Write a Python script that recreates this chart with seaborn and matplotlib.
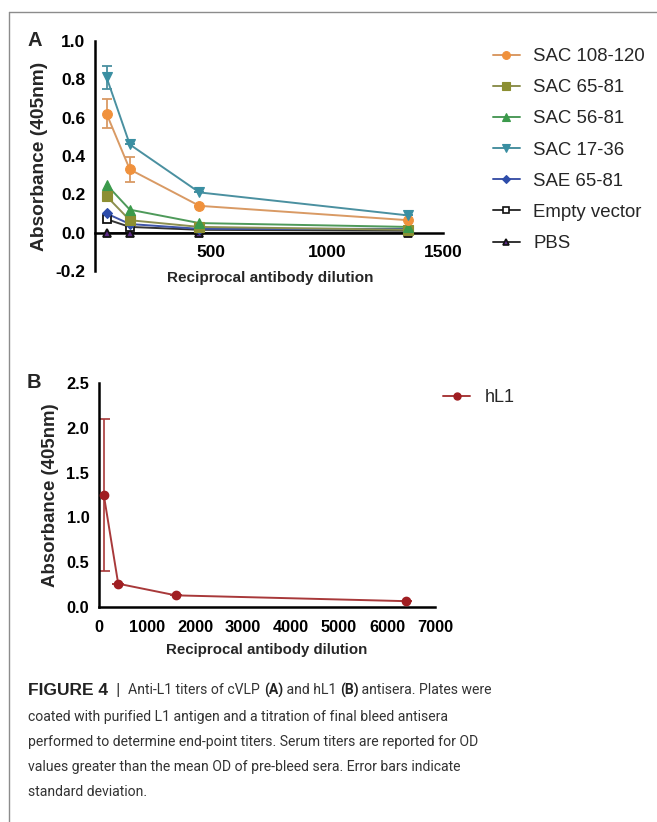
import numpy as np
import pandas as pd
import matplotlib
matplotlib.use("Agg")
import matplotlib.pyplot as plt
from matplotlib.lines import Line2D
import seaborn as sns

sns.set_style("white")
plt.rcParams['font.family'] = ['Liberation Sans', 'DejaVu Sans']

# ---- Data panel A ----
dilution_a = [50, 150, 450, 1350]
series_names = ["SAC 108-120", "SAC 65-81", "SAC 56-81", "SAC 17-36",
                "SAE 65-81", "Empty vector", "PBS"]
sac_108_120 = [0.62, 0.33, 0.14, 0.065]
sac_108_120_sd = [0.075, 0.065, 0.0, 0.0]
sac_65_81 = [0.19, 0.065, 0.03, 0.015]
sac_56_81 = [0.25, 0.12, 0.05, 0.03]
sac_17_36 = [0.81, 0.46, 0.21, 0.09]
sac_17_36_sd = [0.06, 0.0, 0.0, 0.0]
sae_65_81 = [0.10, 0.045, 0.02, 0.02]
empty_vector = [0.07, 0.03, 0.015, 0.01]
pbs = [0.0, 0.0, 0.0, 0.0]

# ---- Data panel B ----
dilution_b = [100, 400, 1600, 6400]
hl1 = [1.25, 0.26, 0.13, 0.065]
hl1_sd = [0.85, 0.0, 0.0, 0.0]

values = [sac_108_120, sac_65_81, sac_56_81, sac_17_36, sae_65_81, empty_vector, pbs]
rows = []
for name, vals in zip(series_names, values):
    for d, v in zip(dilution_a, vals):
        rows.append({"dilution": d, "absorbance": v, "series": name})
df_a = pd.DataFrame(rows)
df_b = pd.DataFrame({"dilution": dilution_b, "absorbance": hl1, "series": "hL1"})

colors = {"SAC 108-120": "#F0913C", "SAC 65-81": "#8C8F32", "SAC 56-81": "#3B9A4B",
          "SAC 17-36": "#3A8FA2", "SAE 65-81": "#2E4DAA", "Empty vector": "#111111",
          "PBS": "#111111"}
line_colors = {"SAC 108-120": "#D99A64", "SAC 65-81": "#8C8F50", "SAC 56-81": "#4E9A5A",
               "SAC 17-36": "#4A90A0", "SAE 65-81": "#3F55A8", "Empty vector": "#333333",
               "PBS": "#333333"}
markers = {"SAC 108-120": "o", "SAC 65-81": "s", "SAC 56-81": "^", "SAC 17-36": "v",
           "SAE 65-81": "D", "Empty vector": "s", "PBS": "^"}
msize = {"SAC 108-120": 7, "SAC 65-81": 6.5, "SAC 56-81": 6.5, "SAC 17-36": 6.5,
         "SAE 65-81": 5, "Empty vector": 6, "PBS": 6}
mface = {"Empty vector": "white", "PBS": "#5B2A86"}

fig = plt.figure(figsize=(6.57, 8.22), dpi=100)

# frame lines
fig.add_artist(Line2D([9/657, 9/657], [0, 1 - 12/822], color="#8c8c8c", lw=1.0))
fig.add_artist(Line2D([9/657, 1], [1 - 12/822, 1 - 12/822], color="#8c8c8c", lw=1.0))

axA = fig.add_axes([95/657, 1 - 271/822, 348/657, 230/822])
axB = fig.add_axes([99/657, 1 - 607/822, 336/657, 224/822])

order_draw = ["PBS", "Empty vector", "SAE 65-81", "SAC 65-81", "SAC 56-81",
              "SAC 108-120", "SAC 17-36"]
handles = {}
for name in order_draw:
    sub = df_a[df_a["series"] == name]
    sns.lineplot(data=sub, x="dilution", y="absorbance", ax=axA, color=line_colors[name],
                 lw=1.4, legend=False, zorder=2)
    axA.plot(sub["dilution"], sub["absorbance"], ls="none", marker=markers[name],
             ms=msize[name], mfc=mface.get(name, colors[name]),
             mec=colors[name] if name not in mface else "#111111",
             mew=1.3 if name in mface else 0.8, zorder=3)
    handles[name] = Line2D([], [], color=line_colors[name], lw=1.4, marker=markers[name],
                           ms=msize[name] * 0.8, mfc=mface.get(name, colors[name]),
                           mec=colors[name] if name not in mface else "#111111",
                           mew=1.2 if name in mface else 0.8)

axA.errorbar(dilution_a, sac_108_120, yerr=sac_108_120_sd, fmt="none",
             ecolor=line_colors["SAC 108-120"], elinewidth=1.3, capsize=3.5, capthick=1.3, zorder=1)
axA.errorbar(dilution_a, sac_17_36, yerr=sac_17_36_sd, fmt="none",
             ecolor=line_colors["SAC 17-36"], elinewidth=1.3, capsize=3.5, capthick=1.3, zorder=1)

def style_axes(ax, size):
    for s in ["top", "right"]:
        ax.spines[s].set_visible(False)
    for s in ["left", "bottom"]:
        ax.spines[s].set_linewidth(1.8)
        ax.spines[s].set_color("black")
    ax.tick_params(axis="both", direction="out", length=5, width=1.8, colors="black",
                   labelsize=size, pad=2)
    for lab in ax.get_xticklabels() + ax.get_yticklabels():
        lab.set_fontweight("bold")

axA.set_xlim(0, 1500)
axA.set_ylim(-0.2, 1.0)
axA.spines["bottom"].set_position(("data", 0))
axA.set_xticks([500, 1000, 1500])
axA.set_xticklabels(["500", "1000", "1500"])
axA.set_yticks([-0.2, 0.0, 0.2, 0.4, 0.6, 0.8, 1.0])
axA.set_yticklabels(["-0.2", "0.0", "0.2", "0.4", "0.6", "0.8", "1.0"])
style_axes(axA, 12.5)
axA.tick_params(axis="x", pad=4)
axA.set_xlabel("")
axA.set_ylabel("Absorbance (405nm)", fontsize=13.8, fontweight="bold", labelpad=5)
fig.text(270/657, 1 - 278/822, "Reciprocal antibody dilution", ha="center", va="center",
         fontsize=11, fontweight="bold")

leg_order = series_names
axA.legend([handles[n] for n in leg_order], leg_order, loc="upper left",
           bbox_to_anchor=(493/657, 1 - 48/822), bbox_transform=fig.transFigure,
           frameon=False, fontsize=13.4, handlelength=1.45, labelspacing=0.76,
           handletextpad=0.7, borderaxespad=0, borderpad=0)

# panel B
sns.lineplot(data=df_b, x="dilution", y="absorbance", ax=axB, color="#A8393A", lw=1.4,
             legend=False, zorder=2)
axB.plot(dilution_b, hl1, ls="none", marker="o", ms=6, mfc="#A01E22", mec="#A01E22", zorder=3)
axB.errorbar(dilution_b, hl1, yerr=hl1_sd, fmt="none", ecolor="#A8393A", elinewidth=1.2,
             capsize=4, capthick=1.2, zorder=1)
axB.set_xlim(0, 7000)
axB.set_ylim(0, 2.5)
axB.set_xticks([0, 1000, 2000, 3000, 4000, 5000, 6000, 7000])
axB.set_xticklabels([str(v) for v in [0, 1000, 2000, 3000, 4000, 5000, 6000, 7000]])
axB.set_yticks([0, 0.5, 1.0, 1.5, 2.0, 2.5])
axB.set_yticklabels(["0.0", "0.5", "1.0", "1.5", "2.0", "2.5"])
style_axes(axB, 11.8)
axB.tick_params(axis="x", pad=4)
axB.set_xlabel("Reciprocal antibody dilution", fontsize=10.8, fontweight="bold", labelpad=6)
axB.set_ylabel("Absorbance (405nm)", fontsize=13.4, fontweight="bold", labelpad=5)
hB = Line2D([], [], color="#A8393A", lw=1.4, marker="o", ms=5, mfc="#A01E22", mec="#A01E22")
axB.legend([hB], ["hL1"], loc="upper left", bbox_to_anchor=(443/657, 1 - 389/822),
           bbox_transform=fig.transFigure, frameon=False, fontsize=13, handlelength=1.5,
           handletextpad=0.8, borderaxespad=0, borderpad=0)

# panel letters
fig.text(27/657, 1 - 40/822, "A", fontsize=14.5, fontweight="bold", va="center", ha="left")
fig.text(27/657, 1 - 382/822, "B", fontsize=14.5, fontweight="bold", va="center", ha="left")

# caption
cap_lines = [
    "coated with purified L1 antigen and a titration of final bleed antisera",
    "performed to determine end-point titers. Serum titers are reported for OD",
    "values greater than the mean OD of pre-bleed sera. Error bars indicate",
    "standard deviation.",
]
cap_y = [690, 717, 742, 767, 792]
reg = dict(fontsize=10.1, color="#333333", va="center", ha="left",
           family=["Roboto", "DejaVu Sans"])
parts = [("FIGURE 4", dict(fontsize=12.5, fontweight="bold", color="#222222", va="center",
                           ha="left", family=["Liberation Sans", "DejaVu Sans"])),
         ("  |  ", dict(reg, fontsize=12)),
         ("Anti-L1 titers of cVLP ", reg),
         ("(A)", dict(reg, fontweight="bold", color="#222222")),
         (" and hL1 ", reg),
         ("(B)", dict(reg, fontweight="bold", color="#222222")),
         (" antisera. Plates were", reg)]
fig.canvas.draw()
renderer = fig.canvas.get_renderer()
x0 = 28 / 657
for txt, kw in parts:
    t = fig.text(x0, 1 - cap_y[0] / 822, txt, **kw)
    bb = t.get_window_extent(renderer=renderer)
    x0 += bb.width / fig.bbox.width
for line, y in zip(cap_lines, cap_y[1:]):
    fig.text(28 / 657, 1 - y / 822, line, **reg)

fig.savefig("out.png", dpi=100)
